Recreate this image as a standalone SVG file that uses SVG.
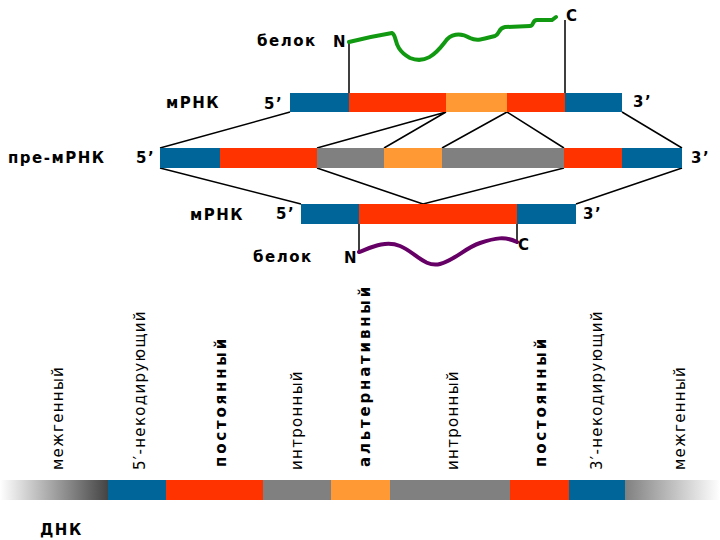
<svg xmlns="http://www.w3.org/2000/svg" width="720" height="540" viewBox="0 0 720 540">
<style>
.b{fill:#006699}.r{fill:#ff3300}.o{fill:#ff9933}.g{fill:#808080}
.t{font-family:"DejaVu Sans",sans-serif;font-weight:bold;font-size:15px;letter-spacing:1.5px;fill:#000}
.v{font-family:"DejaVu Sans",sans-serif;font-size:15px;letter-spacing:1.3px;fill:#000}
.vb{font-family:"DejaVu Sans",sans-serif;font-size:15px;font-weight:bold;letter-spacing:2.8px;fill:#000}
.c{stroke:#000;stroke-width:1.5;fill:none}
</style>
<defs>
<linearGradient id="gl" x1="0" x2="1"><stop offset="0" stop-color="#fff"/><stop offset="1" stop-color="#444"/></linearGradient>
<linearGradient id="gr" x1="0" x2="1"><stop offset="0" stop-color="#808080"/><stop offset="1" stop-color="#fff"/></linearGradient>
</defs>
<rect width="720" height="540" fill="#fff"/>
<g id="connectors" class="c">
<path d="M290 112L160 148M446 112L317 148M446 112L384 148M507 112L442 148M507 112L564 148M622 112L682 148"/>
<path d="M160 168L301 204M317 168L423 204M564 168L423 204M682 168L576 204"/>
<path d="M349 42V93M565 20V93M359 224V252M517 224V244"/>
</g>
<g id="protein1">
<path d="M349 42C365 38 380 35 392 33C398 36 392 48 410 58C425 64 435 55 445 42C450 34 460 32 470 38C478 42 485 38 495 36C500 34 498 28 505 27L530 26C534 26 532 20 537 20L552 20L556 17" stroke="#119911" stroke-width="4" fill="none" stroke-linecap="round"/>
<text class="t" x="257" y="46">белок</text><text class="t" x="333" y="47">N</text><text class="t" x="566" y="21">C</text>
</g>
<g id="mrna1">
<rect class="b" x="290" y="93" width="59" height="19"/><rect class="r" x="349" y="93" width="97" height="19"/><rect class="o" x="446" y="93" width="61" height="19"/><rect class="r" x="507" y="93" width="58" height="19"/><rect class="b" x="565" y="93" width="57" height="19"/>
<text class="t" x="166" y="108">мРНК</text><text class="t" x="264" y="109">5’</text><text class="t" x="633" y="107">3’</text>
</g>
<g id="premrna">
<rect class="b" x="160" y="148" width="60" height="20"/><rect class="r" x="220" y="148" width="97" height="20"/><rect class="g" x="317" y="148" width="67" height="20"/><rect class="o" x="384" y="148" width="58" height="20"/><rect class="g" x="442" y="148" width="122" height="20"/><rect class="r" x="564" y="148" width="58" height="20"/><rect class="b" x="622" y="148" width="60" height="20"/>
<text class="t" x="8" y="163">пре-мРНК</text><text class="t" x="136" y="163">5’</text><text class="t" x="691" y="163">3’</text>
</g>
<g id="mrna2">
<rect class="b" x="301" y="204" width="58" height="20"/><rect class="r" x="359" y="204" width="158" height="20"/><rect class="b" x="517" y="204" width="59" height="20"/>
<text class="t" x="190" y="220">мРНК</text><text class="t" x="276" y="219">5’</text><text class="t" x="583" y="219">3’</text>
</g>
<g id="protein2">
<path d="M359 252C370 248 385 240 400 246C415 252 425 268 440 264C455 260 465 248 480 243C495 238 505 236 517 242" stroke="#660066" stroke-width="4" fill="none" stroke-linecap="round"/>
<text class="t" x="253" y="262">белок</text><text class="t" x="344" y="263">N</text><text class="t" x="518" y="250">C</text>
</g>
<g id="dna">
<rect fill="url(#gl)" x="0" y="480" width="108" height="20"/><rect class="b" x="108" y="480" width="58" height="20"/><rect class="r" x="166" y="480" width="97" height="20"/><rect class="g" x="263" y="480" width="68" height="20"/><rect class="o" x="331" y="480" width="59" height="20"/><rect class="g" x="390" y="480" width="120" height="20"/><rect class="r" x="510" y="480" width="59" height="20"/><rect class="b" x="569" y="480" width="56" height="20"/><rect fill="url(#gr)" x="625" y="480" width="95" height="20"/>
<text class="t" x="40" y="535">ДНК</text>
<text class="v" transform="translate(63,470) rotate(-90)">межгенный</text>
<text class="v" transform="translate(145,470) rotate(-90)">5′-некодирующий</text>
<text class="vb" transform="translate(226,467) rotate(-90)">постоянный</text>
<text class="v" transform="translate(302,470) rotate(-90)">интронный</text>
<text class="vb" transform="translate(370,467) rotate(-90)">альтернативный</text>
<text class="v" transform="translate(458,470) rotate(-90)">интронный</text>
<text class="vb" transform="translate(546,467) rotate(-90)">постоянный</text>
<text class="v" transform="translate(602,470) rotate(-90)">3′-некодирующий</text>
<text class="v" transform="translate(685,470) rotate(-90)">межгенный</text>
</g>
</svg>
